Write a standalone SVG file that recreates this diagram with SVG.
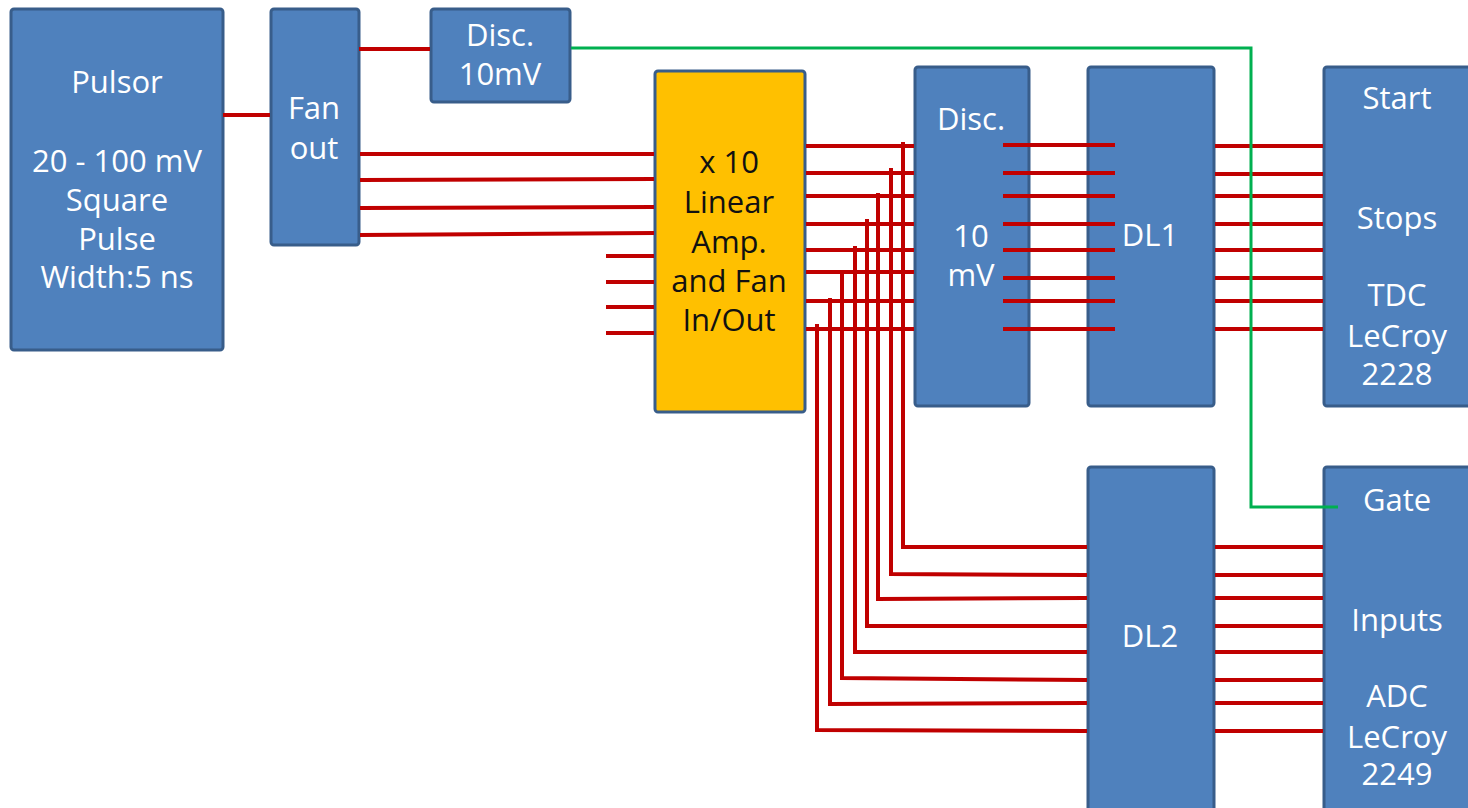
<svg xmlns="http://www.w3.org/2000/svg" width="1468" height="808" viewBox="0 0 1468 808">
<style>
.box{fill:#4F81BD;stroke:#385D8A;stroke-width:3}
.amp{fill:#FFC000;stroke:#385D8A;stroke-width:3}
.t{font-family:"Open Sans","Noto Sans",sans-serif;font-size:31px;fill:#FFFFFF;text-anchor:middle}
.tb{fill:#111111}
.r{stroke:#C00000;stroke-width:4;fill:none}
.g{stroke:#00B050;stroke-width:3;fill:none}
</style>
<rect width="1468" height="808" fill="#FFFFFF"/>
<g id="pulsor">
<rect class="box" x="11" y="9" width="212" height="341" rx="3"/>
<text class="t" x="117" y="93">Pulsor</text>
<text class="t" x="117" y="172">20 - 100 mV</text>
<text class="t" x="117" y="211">Square</text>
<text class="t" x="117" y="250">Pulse</text>
<text class="t" x="117" y="288">Width:5 ns</text>
</g>
<g id="fanout">
<rect class="box" x="271" y="9" width="88" height="236" rx="3"/>
<text class="t" x="314" y="119">Fan</text>
<text class="t" x="314" y="159">out</text>
</g>
<g id="disc1">
<rect class="box" x="431" y="9" width="139" height="93" rx="3"/>
<text class="t" x="500" y="46">Disc.</text>
<text class="t" x="500" y="85">10mV</text>
</g>
<g id="amp">
<rect class="amp" x="655" y="71" width="150" height="341" rx="3"/>
<text class="t tb" x="729" y="173">x 10</text>
<text class="t tb" x="729" y="213">Linear</text>
<text class="t tb" x="729" y="253">Amp.</text>
<text class="t tb" x="729" y="292">and Fan</text>
<text class="t tb" x="729" y="331">In/Out</text>
</g>
<g id="disc2">
<rect class="box" x="915" y="67" width="114" height="339" rx="3"/>
<text class="t" x="971" y="130">Disc.</text>
<text class="t" x="971" y="247">10</text>
<text class="t" x="971" y="286">mV</text>
</g>
<g id="dl1">
<rect class="box" x="1088" y="67" width="126" height="339" rx="3"/>
<text class="t" x="1150" y="246">DL1</text>
</g>
<g id="tdc">
<rect class="box" x="1324" y="67" width="150" height="339" rx="3"/>
<text class="t" x="1397" y="109">Start</text>
<text class="t" x="1397" y="229">Stops</text>
<text class="t" x="1397" y="306">TDC</text>
<text class="t" x="1397" y="347">LeCroy</text>
<text class="t" x="1397" y="385">2228</text>
</g>
<g id="dl2">
<rect class="box" x="1088" y="467" width="126" height="350" rx="3"/>
<text class="t" x="1150" y="647">DL2</text>
</g>
<g id="adc">
<rect class="box" x="1324" y="467" width="150" height="350" rx="3"/>
<text class="t" x="1397" y="511">Gate</text>
<text class="t" x="1397" y="631">Inputs</text>
<text class="t" x="1397" y="707">ADC</text>
<text class="t" x="1397" y="748">LeCroy</text>
<text class="t" x="1397" y="785">2249</text>
</g>
<g id="connectors">
<line class="r" x1="223" y1="115" x2="270" y2="115"/>
<line class="r" x1="359" y1="49" x2="430" y2="49"/>
<line class="r" x1="360" y1="154" x2="654" y2="154"/>
<line class="r" x1="360" y1="180" x2="654" y2="179"/>
<line class="r" x1="360" y1="208" x2="654" y2="207"/>
<line class="r" x1="360" y1="235" x2="654" y2="233"/>
<line class="r" x1="606" y1="256" x2="654" y2="256"/>
<line class="r" x1="606" y1="282" x2="654" y2="282"/>
<line class="r" x1="606" y1="307" x2="654" y2="307"/>
<line class="r" x1="606" y1="333" x2="654" y2="333"/>
<line class="r" x1="806" y1="146" x2="914" y2="146"/>
<line class="r" x1="806" y1="173" x2="914" y2="173"/>
<line class="r" x1="806" y1="196" x2="914" y2="196"/>
<line class="r" x1="806" y1="224" x2="914" y2="224"/>
<line class="r" x1="806" y1="250" x2="914" y2="250"/>
<line class="r" x1="806" y1="272" x2="914" y2="272"/>
<line class="r" x1="806" y1="301" x2="914" y2="301"/>
<line class="r" x1="806" y1="329" x2="914" y2="329"/>
<polyline class="r" points="903,142 903,547 1087,547"/>
<polyline class="r" points="891,168 891,574 1087,575"/>
<polyline class="r" points="878,193 878,599 1087,598"/>
<polyline class="r" points="867,219 867,626 1087,626"/>
<polyline class="r" points="855,246 855,652 1087,652"/>
<polyline class="r" points="842,273 842,678 1087,680"/>
<polyline class="r" points="830,298 830,704 1087,703"/>
<polyline class="r" points="817,324 817,730 1087,731"/>
<line class="r" x1="1003" y1="145" x2="1115" y2="145"/>
<line class="r" x1="1003" y1="173" x2="1115" y2="173"/>
<line class="r" x1="1003" y1="196" x2="1115" y2="196"/>
<line class="r" x1="1003" y1="224" x2="1115" y2="224"/>
<line class="r" x1="1003" y1="250" x2="1115" y2="250"/>
<line class="r" x1="1003" y1="278" x2="1115" y2="278"/>
<line class="r" x1="1003" y1="301" x2="1115" y2="301"/>
<line class="r" x1="1003" y1="329" x2="1115" y2="329"/>
<line class="r" x1="1215" y1="146" x2="1323" y2="146"/>
<line class="r" x1="1215" y1="174" x2="1323" y2="174"/>
<line class="r" x1="1215" y1="196" x2="1323" y2="196"/>
<line class="r" x1="1215" y1="224" x2="1323" y2="224"/>
<line class="r" x1="1215" y1="250" x2="1323" y2="250"/>
<line class="r" x1="1215" y1="278" x2="1323" y2="278"/>
<line class="r" x1="1215" y1="301" x2="1323" y2="301"/>
<line class="r" x1="1215" y1="329" x2="1323" y2="329"/>
<line class="r" x1="1215" y1="547" x2="1323" y2="547"/>
<line class="r" x1="1215" y1="575" x2="1323" y2="575"/>
<line class="r" x1="1215" y1="598" x2="1323" y2="598"/>
<line class="r" x1="1215" y1="626" x2="1323" y2="626"/>
<line class="r" x1="1215" y1="652" x2="1323" y2="652"/>
<line class="r" x1="1215" y1="680" x2="1323" y2="680"/>
<line class="r" x1="1215" y1="703" x2="1323" y2="703"/>
<line class="r" x1="1215" y1="731" x2="1323" y2="731"/>
<polyline class="g" points="571,48 1251,48 1251,507 1338,507"/>
</g>
</svg>
